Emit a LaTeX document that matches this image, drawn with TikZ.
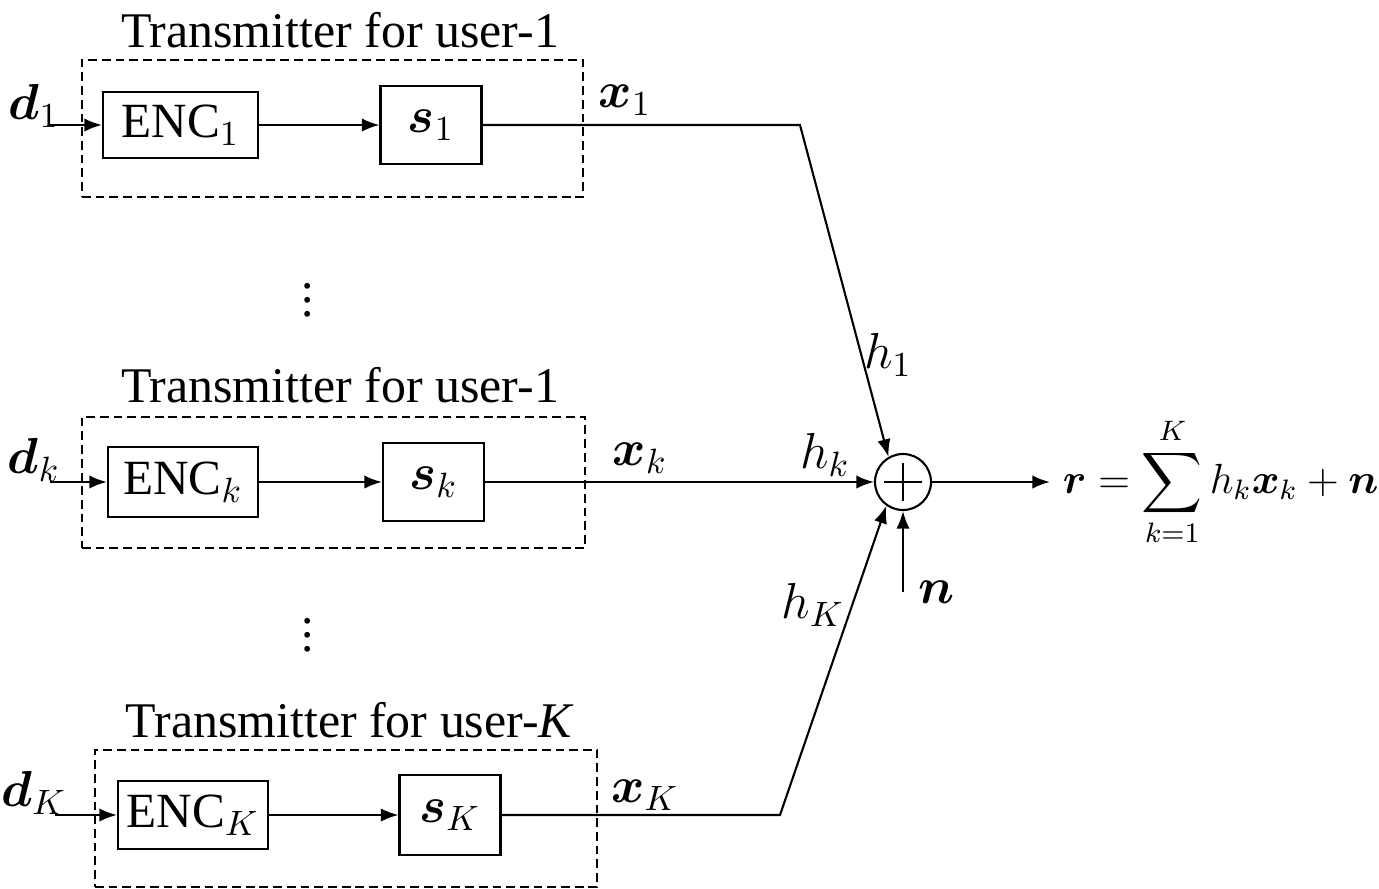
\documentclass[tikz,border=0pt]{standalone}
\usepackage{amsmath}
\usepackage{fontspec}
\setmainfont{Liberation Serif}
\usetikzlibrary{arrows.meta}

\tikzset{
  >={Latex[length=5pt,width=3.8pt]},
  encbox/.style={draw, minimum width=1.55cm, minimum height=0.66cm, inner sep=0pt},
  sigbox/.style={draw, minimum width=1.01cm, minimum height=0.78cm, inner sep=0pt},
  group/.style={draw, dash pattern=on 2.5pt off 1.4pt, line width=0.5pt, inner sep=0pt},
  adder/.style={draw, circle, minimum size=0.56cm, inner sep=0pt},
  title/.style={font=\fontsize{14.2}{17}\selectfont},
}

\begin{document}
\begin{tikzpicture}[font=\fontsize{14}{17}\selectfont, line width=0.6pt]
\useasboundingbox (0,0) rectangle (13.79,-8.88);

\node[title] (title_1) at (3.40,-0.30) {Transmitter for user-1};
\node[title] (title_k) at (3.40,-3.85) {Transmitter for user-1};
\node[title] (title_K) at (3.50,-7.20) {Transmitter for user-\textit{K}};

\node[group, minimum width=5.01cm, minimum height=1.37cm] (group_1) at (3.325,-1.285) {};
\node[group, minimum width=5.03cm, minimum height=1.31cm] (group_k) at (3.335,-4.825) {};
\node[group, minimum width=5.02cm, minimum height=1.37cm] (group_K) at (3.46,-8.185) {};

\node[encbox] (enc_1) at (1.805,-1.25) {ENC$_1$};
\node[encbox, minimum width=1.50cm, minimum height=0.70cm] (enc_k) at (1.83,-4.82) {ENC$_k$};
\node[encbox, minimum width=1.50cm, minimum height=0.68cm] (enc_K) at (1.93,-8.15) {ENC$_K$};

\node[sigbox] (sig_1) at (4.31,-1.25) {$\boldsymbol{s}_1$};
\node[sigbox] (sig_k) at (4.335,-4.82) {$\boldsymbol{s}_k$};
\node[sigbox, minimum height=0.80cm] (sig_K) at (4.50,-8.15) {$\boldsymbol{s}_K$};

\coordinate (in_1) at (0.50,-1.25);
\coordinate (in_k) at (0.50,-4.82);
\coordinate (in_K) at (0.55,-8.15);
\node (d_1) at (0.34,-1.06) {$\boldsymbol{d}_1$};
\node (d_k) at (0.34,-4.60) {$\boldsymbol{d}_k$};
\node (d_K) at (0.34,-7.93) {$\boldsymbol{d}_K$};

\node[adder] (sum) at (9.03,-4.82) {};
\draw ([yshift=-0.10cm]sum.north) -- ([yshift=0.10cm]sum.south);
\draw ([xshift=0.10cm]sum.west) -- ([xshift=-0.10cm]sum.east);

\coordinate (bend_1) at (8.00,-1.25);
\coordinate (bend_K) at (7.80,-8.15);
\coordinate (noise) at (9.03,-5.92);

\node (x_1) at (6.25,-1.00) {$\boldsymbol{x}_1$};
\node (x_k) at (6.40,-4.58) {$\boldsymbol{x}_k$};
\node (x_K) at (6.45,-7.95) {$\boldsymbol{x}_K$};
\node (h_1) at (8.88,-3.55) {$h_1$};
\node (h_k) at (8.25,-4.55) {$h_k$};
\node (h_K) at (8.13,-6.05) {$h_K$};
\node (n_lbl) at (9.37,-5.92) {$\boldsymbol{n}$};
\node (dots_1) at (3.08,-2.90) {$\vdots$};
\node (dots_2) at (3.08,-6.25) {$\vdots$};

\node[anchor=west, font=\fontsize{12}{14}\selectfont] (rsum) at (10.50,-4.82) {$\boldsymbol{r} = \displaystyle\sum_{k=1}^{K} h_k \boldsymbol{x}_k + \boldsymbol{n}$};

\draw[->] (in_1) -- (enc_1);
\draw[->] (enc_1) -- (sig_1);
\draw[->] (in_k) -- (enc_k);
\draw[->] (enc_k) -- (sig_k);
\draw[->] (in_K) -- (enc_K);
\draw[->] (enc_K) -- (sig_K);

\draw[->] (sig_1) -- (bend_1) -- (sum.120);
\draw[->] (sig_k) -- (sum);
\draw[->] (sig_K) -- (bend_K) -- (sum.235);
\draw[->] (noise) -- (sum);
\draw[->] (sum) -- (rsum);
\end{tikzpicture}
\end{document}
